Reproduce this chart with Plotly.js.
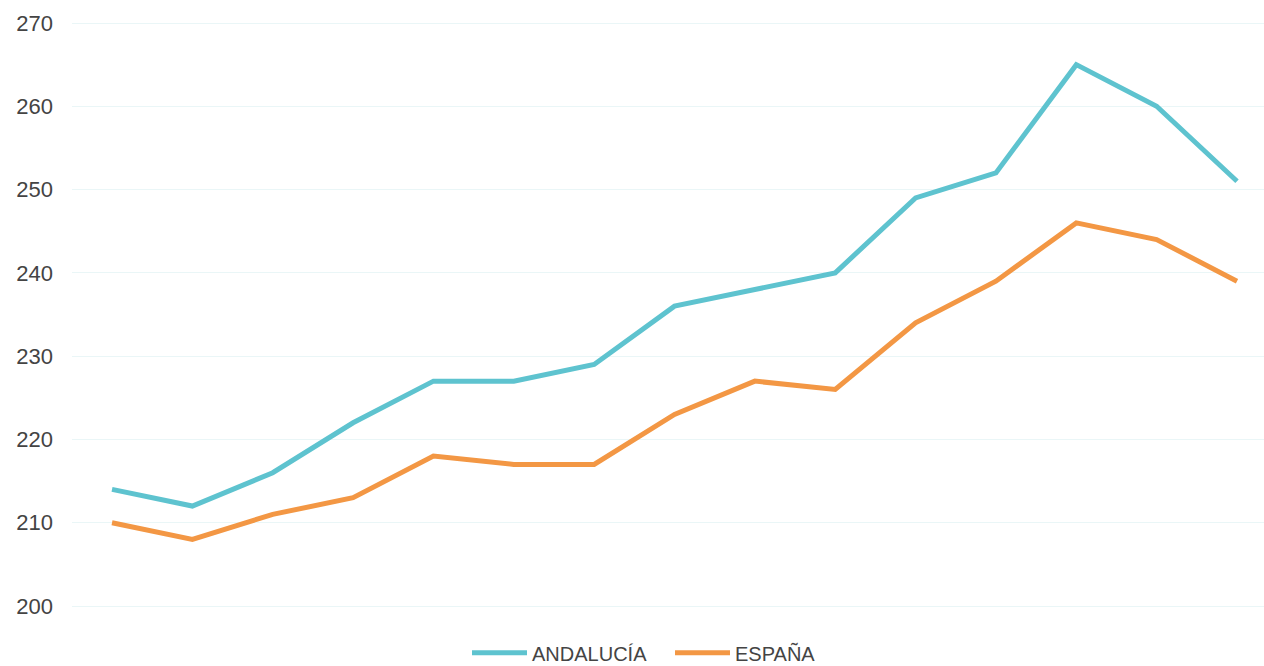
<!DOCTYPE html>
<html>
<head>
<meta charset="utf-8">
<script src="https://cdn.plot.ly/plotly-3.0.1.min.js"></script>
<style>html,body{margin:0;padding:0;background:#fff}#chart{width:1264px;height:666px}</style>
</head>
<body>
<div id="chart"></div>
<script>
var xIndex = [0,1,2,3,4,5,6,7,8,9,10,11,12,13,14];
var andalucia = [214,212,216,222,227,227,229,236,238,240,249,252,265,260,251];
var espana = [210,208,211,213,218,217,217,223,227,226,234,239,246,244,239];
var yTicks = [200,210,220,230,240,250,260,270];

var traces = [
  {x: xIndex, y: andalucia, name: 'ANDALUCÍA', type: 'scatter', mode: 'lines',
   line: {color: '#5EC3CF', width: 5}},
  {x: xIndex, y: espana, name: 'ESPAÑA', type: 'scatter', mode: 'lines',
   line: {color: '#F39744', width: 5}}
];
var layout = {
  width: 1264, height: 666,
  margin: {l: 72, r: 0, t: 21, b: 58, autoexpand: false},
  paper_bgcolor: '#fff', plot_bgcolor: '#fff',
  font: {family: 'Liberation Sans, Arial, sans-serif', color: '#444'},
  xaxis: {range: [-0.498, 14.336], showticklabels: false, showgrid: false, zeroline: false, showline: false, ticks: ''},
  yaxis: {range: [199.76, 270.24], tickvals: yTicks, showgrid: true, gridcolor: '#EAF6F7', gridwidth: 1,
          zeroline: false, showline: false, ticks: '', ticklabelstandoff: 18,
          tickfont: {size: 22, color: '#444'}},
  showlegend: true,
  legend: {orientation: 'h', x: (467-72)/1192, xanchor: 'left', y: -0.043, yanchor: 'top',
           font: {size: 20, color: '#444'}, itemwidth: 55, entrywidth: 133, entrywidthmode: 'pixels',
           traceorder: 'normal'}
};
Plotly.newPlot('chart', traces, layout, {displayModeBar: false, staticPlot: true});
</script>
</body>
</html>
